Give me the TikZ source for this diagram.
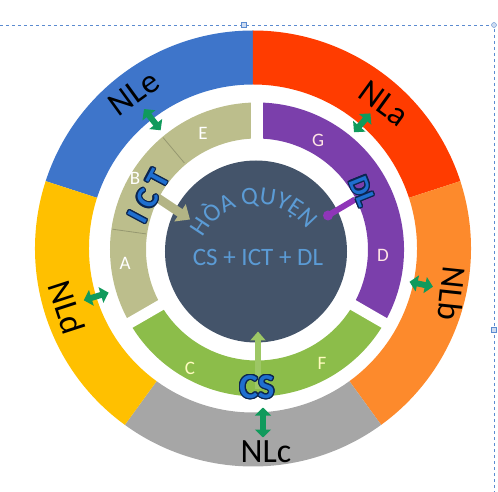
\documentclass[tikz,border=0pt]{standalone}
\usepackage{fontspec}
\setmainfont{Carlito}
\usepackage{contour}
\contourlength{1.2pt}
\usetikzlibrary{positioning, arrows.meta, decorations.text}

\definecolor{nlblue}{HTML}{3E75CA}
\definecolor{nlred}{HTML}{FF3C00}
\definecolor{nlorange}{HTML}{FD8A2C}
\definecolor{nlgray}{HTML}{A6A6A6}
\definecolor{nlyellow}{HTML}{FFC000}
\definecolor{segkhaki}{HTML}{BCBE8C}
\definecolor{segpurple}{HTML}{7B3FAB}
\definecolor{seggreen}{HTML}{8CBD4A}
\definecolor{hqdark}{HTML}{44546A}
\definecolor{hqblue}{HTML}{5B9BD5}
\definecolor{arrowgreen}{HTML}{109A5C}
\definecolor{keyblue}{HTML}{1F6FCF}
\definecolor{keyline}{HTML}{0B2550}
\definecolor{selblue}{HTML}{5B8BD0}

\begin{document}
\begin{tikzpicture}[x=1pt, y=1pt,
  nllabel/.style={font=\fontsize{34}{36}\selectfont, text=black, inner sep=0pt},
  seglabel/.style={font=\fontsize{19}{21}\selectfont, inner sep=0pt},
  keylabel/.style={font=\fontsize{31}{33}\selectfont\bfseries, text=keyblue, inner sep=0pt},
  nlarrow/.style={draw=arrowgreen, line width=6, {Triangle[width=16pt,length=8pt]}-{Triangle[width=16pt,length=8pt]}},
  gap/.style={draw=white, line width=11},
  ictline/.style={draw=segkhaki!80!black, line width=0.8}]
  \useasboundingbox (-253,-243.5) rectangle (245,248.5);

  % outer ring
  \fill[nlblue] (90:218) arc[start angle=90, end angle=162, radius=218] -- (162:164) arc[start angle=162, end angle=90, radius=164] -- cycle;
  \fill[nlred] (18:218) arc[start angle=18, end angle=90, radius=218] -- (90:164) arc[start angle=90, end angle=18, radius=164] -- cycle;
  \fill[nlorange] (-54:218) arc[start angle=-54, end angle=18, radius=218] -- (18:164) arc[start angle=18, end angle=-54, radius=164] -- cycle;
  \fill[nlgray] (-126:218) arc[start angle=-126, end angle=-54, radius=218] -- (-54:164) arc[start angle=-54, end angle=-126, radius=164] -- cycle;
  \fill[nlyellow] (162:218) arc[start angle=162, end angle=234, radius=218] -- (234:164) arc[start angle=234, end angle=162, radius=164] -- cycle;

  \node[nllabel, rotate=36] (nle) at (-119,155) {NLe};
  \node[nllabel, rotate=-36] (nla) at (131,145) {NLa};
  \node[nllabel, rotate=-96] (nlb) at (199,-45) {NLb};
  \node[nllabel] (nlc) at (13,-203) {NLc};
  \node[nllabel, rotate=-72] (nld) at (-186,-59) {NLd};

  \begin{scope}[shift={(4,-1)}]
    % middle ring
    \fill[segkhaki] (90:147) arc[start angle=90, end angle=210, radius=147] -- (210:111) arc[start angle=210, end angle=90, radius=111] -- cycle;
    \fill[seggreen] (210:147) arc[start angle=210, end angle=330, radius=147] -- (330:111) arc[start angle=330, end angle=210, radius=111] -- cycle;
    \fill[segpurple] (-30:147) arc[start angle=-30, end angle=90, radius=147] -- (90:111) arc[start angle=90, end angle=-30, radius=111] -- cycle;
    \draw[gap] (90:100) -- (90:155);
    \draw[gap] (210:100) -- (210:155);
    \draw[gap] (330:100) -- (330:155);
    \draw[ictline] (130:113) -- (130:146);
    \draw[ictline] (172:112) -- (172:146);

    \fill[hqdark] (-1,-2) circle (91);

    \node[seglabel, text=white] (sege) at (-54,116.5) {E};
    \node[seglabel, text=pink!40] (segg) at (61,109.5) {G};
    \node[seglabel, text=pink!40] (segd) at (126,-5.5) {D};
    \node[seglabel, text=yellow!25] (segf) at (65,-113.5) {F};
    \node[seglabel, text=yellow!25] (segc) at (-67,-118.5) {C};
    \node[seglabel, text=white] (sega) at (-132,-13.5) {A};
    \node[seglabel, text=white] (segb) at (-122,71.5) {B};

    % arrows into the centre
    \coordinate (ict tail) at (-100,52);
    \coordinate (ict head) at (-67,30);
    \draw[draw=segkhaki!95!black, line width=9, -{Triangle[width=20pt,length=12pt]}] (ict tail) -- (ict head);
    \coordinate (dl tail) at (98,50);
    \coordinate (dl dot) at (71,34);
    \draw[draw=segpurple!85!magenta, line width=6] (dl tail) -- (dl dot);
    \fill[segpurple!85!magenta] (dl dot) circle (5);
    \coordinate (cs tail) at (1,-140);
    \coordinate (cs head) at (1,-82);
    \draw[draw=seggreen!85!white, line width=6, -{Triangle[width=15pt,length=9pt]}] (cs tail) -- (cs head);

    \node[keylabel, rotate=62] (ict) at (-108,53) {\contour{keyline}{I\hspace{8pt}C\hspace{7pt}T}};
    \node[keylabel, rotate=-68, font=\fontsize{28}{30}\selectfont\bfseries] (dl) at (105,58) {\contour{keyline}{DL}};
    \node[keylabel, font=\fontsize{35}{37}\selectfont\bfseries] (cs) at (0,-138) {\contour{keyline}{CS}};

    \path[decorate, decoration={text along path, text align=center, text color=hqblue,
      text={|\fontsize{25}{27}\selectfont|HÒA QUYỆN}}]
      ([shift={(1,-15.5)}]170:61) arc[start angle=170, end angle=20, radius=61];
    \node[font=\fontsize{25}{27}\selectfont, text=hqblue, inner sep=0pt] (formula) at (1,-7.5) {CS + ICT + DL};
  \end{scope}

  % links between the two rings
  \coordinate (nle in) at (128:150);
  \coordinate (nle out) at (128:177);
  \draw[nlarrow] (nle out) -- (nle in);
  \coordinate (nla in) at (49:154);
  \coordinate (nla out) at (49:179);
  \draw[nlarrow] (nla out) -- (nla in);
  \coordinate (nlb in) at (-12:160);
  \coordinate (nlb out) at (-12:184);
  \draw[nlarrow] (nlb out) -- (nlb in);
  \coordinate (nlc in) at (10,-159);
  \coordinate (nlc out) at (10,-189);
  \draw[nlarrow] (nlc out) -- (nlc in);
  \coordinate (nld in) at (197:151);
  \coordinate (nld out) at (197:177);
  \draw[nlarrow] (nld out) -- (nld in);

  % selection frame
  \draw[selblue, dashed, line width=0.6] (-253,223.5) -- (241,223.5) -- (241,-243.5);
  \filldraw[draw=selblue, fill=selblue!30] (-11.5,221) rectangle (-6.5,226);
  \filldraw[draw=selblue, fill=selblue!30] (238.5,-84) rectangle (243.5,-79);
  \filldraw[draw=selblue, fill=selblue!30] (241,223.5) circle (2.5);
\end{tikzpicture}
\end{document}
